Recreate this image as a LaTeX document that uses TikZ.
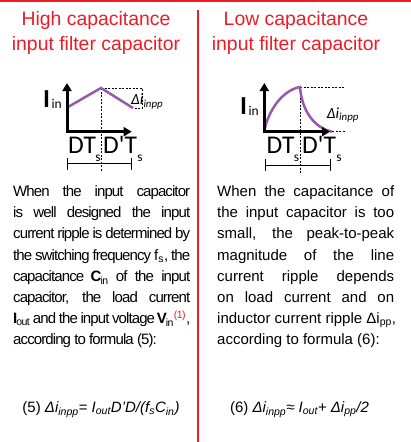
\documentclass[tikz,border=0pt]{standalone}
\usepackage{fontspec}
\setmainfont{Liberation Sans}
\newfontfamily\graphfont{Carlito}
\newfontfamily\tightfont{Liberation Sans}[LetterSpace=-6]
\usetikzlibrary{arrows.meta,positioning}
\definecolor{capred}{RGB}{237,28,36}
\definecolor{ripple}{RGB}{150,90,170}
\newlength\colw
\setlength\colw{177pt}
\newcommand\jline[1]{\makebox[\colw][s]{#1}}
\begin{document}
\begin{tikzpicture}[x=1pt,y=-1pt,
  title/.style={font=\fontsize{19.4}{25}\selectfont,text=capred,anchor=base,inner sep=0pt},
  redline/.style={draw=capred,line width=1.5pt},
  axisline/.style={line width=3pt,{Triangle[width=9pt,length=8pt]}-{Triangle[width=9pt,length=8pt]}},
  rippleline/.style={draw=ripple,line width=2.5pt},
  guide/.style={line width=0.7pt,dash pattern=on 2pt off 1.5pt},
  dimline/.style={line width=0.8pt},
  biglbl/.style={font=\graphfont\bfseries\fontsize{26}{26}\selectfont,inner sep=0pt,anchor=base west},
  midlbl/.style={font=\graphfont\fontsize{25.5}{25.5}\selectfont,inner sep=0pt,anchor=base west},
  sublbl/.style={font=\graphfont\fontsize{13.5}{13.5}\selectfont,inner sep=0pt,anchor=base west},
  deltalbl/.style={font=\graphfont\itshape\fontsize{15.5}{15.5}\selectfont,inner sep=0pt,anchor=base west},
  bodytext/.style={font=\fontsize{15}{21.2}\selectfont,align=left,inner sep=0pt,anchor=north west},
  formula/.style={font=\fontsize{15}{15}\selectfont,inner sep=0pt,anchor=base}]
\useasboundingbox (0,0) rectangle (411,442);

% frame
\draw[redline] (0,0.8) -- (411,0.8);
\draw[redline] (198,10) -- (198,442);

% titles
\node[title] (titleL1) at (96,25) {High capacitance};
\node[title] (titleL2) at (96,50) {input filter capacitor};
\node[title] (titleR1) at (296,25) {Low capacitance};
\node[title] (titleR2) at (296,50) {input filter capacitor};

% left graph
\draw[guide] (101,88) -- (101,172);
\draw[guide] (101,88) -- (142,88) -- (142,108) -- (133,108);
\draw[rippleline] (68,107) -- (101,88) -- (133,108);
\draw[axisline] (67,83) -- (67,131.7) -- (131.7,131.7);
\node[biglbl] (iinL) at (43,107) {I};
\node[sublbl] (iinLs) at ([xshift=1pt,yshift=-1.5pt]iinL.base east) {in};
\node[deltalbl] (dL) at (131,104.5) {Δi\textsubscript{inpp}};
\node[midlbl] (dtL) at (68,153) {DT};
\node[sublbl] (dtLs) at ([xshift=-1pt,yshift=-8pt]dtL.base east) {s};
\node[midlbl] (dptL) at (103,153) {D'T};
\node[sublbl] (dptLs) at ([xshift=0pt,yshift=-8pt]dptL.base east) {s};
\draw[dimline] (67,163.5) -- (131,163.5);
\draw[dimline] (67,158) -- (67,170);
\draw[dimline] (131,158) -- (131,170);

% right graph
\draw[guide] (300,87) -- (300,173);
\draw[guide] (300,87) -- (345,87);
\draw[guide] (332,131.7) -- (345,131.7);
\draw[rippleline] (264.3,131.7) .. controls (268,110) and (283,90) .. (300,87)
  .. controls (302,112) and (315,128) .. (332,131.7);
\draw[axisline] (264.3,83) -- (264.3,131.7) -- (330,131.7);
\node[biglbl] (iinR) at (240,114) {I};
\node[sublbl] (iinRs) at ([xshift=1pt,yshift=-1.5pt]iinR.base east) {in};
\node[deltalbl] (dR) at (326.7,118.3) {Δi\textsubscript{inpp}};
\node[midlbl] (dtR) at (266.5,153) {DT};
\node[sublbl] (dtRs) at ([xshift=-1pt,yshift=-8pt]dtR.base east) {s};
\node[midlbl] (dptR) at (302,153) {D'T};
\node[sublbl] (dptRs) at ([xshift=0pt,yshift=-8pt]dptR.base east) {s};
\draw[dimline] (265,165) -- (330,165);
\draw[dimline] (265,159) -- (265,171);
\draw[dimline] (330,159) -- (330,171);

% texts
\node[bodytext,font=\tightfont\fontsize{15}{21.2}\selectfont] (bodyL) at (13,185.5) {%
\jline{When the input capacitor}\\
\jline{is well designed the input}\\
\jline{current ripple is determined by}\\
\jline{the switching frequency f\textsubscript{s}, the}\\
\jline{capacitance \textbf{C}\textsubscript{in} of the input}\\
\jline{capacitor, the load current}\\
\jline{\textbf{I}\textsubscript{out} and the input voltage \textbf{V}\textsubscript{in}\textsuperscript{\color{capred}(1)},}\\
according to formula (5):};
\node[bodytext] (bodyR) at (217,185.5) {%
\jline{When the capacitance of}\\
\jline{the input capacitor is too}\\
\jline{small, the peak-to-peak}\\
\jline{magnitude of the line}\\
\jline{current ripple depends}\\
\jline{on load current and on}\\
inductor current ripple Δi\textsubscript{pp},\\
according to formula (6):};

% formulas
\node[formula] (formL) at (101,412.7) {(5) \textit{Δi\textsubscript{inpp}= I\textsubscript{out}D'D/(f\textsubscript{s}C\textsubscript{in})}};
\node[formula] (formR) at (299.5,412.7) {(6) \textit{Δi\textsubscript{inpp}≈ I\textsubscript{out}+ Δi\textsubscript{pp}/2}};
\end{tikzpicture}
\end{document}
